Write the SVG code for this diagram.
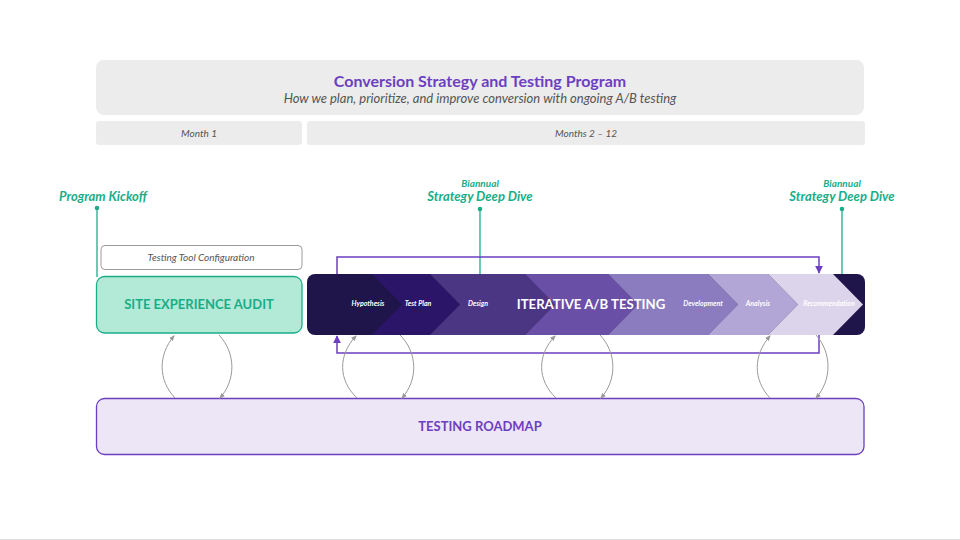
<svg xmlns="http://www.w3.org/2000/svg" width="960" height="540" viewBox="0 0 960 540">
<style>
text{font-family:Lato,"Noto Sans","Liberation Sans",sans-serif}
.hdr{fill:#ececec}
.mon{font-size:10px;font-style:italic;fill:#555;text-anchor:middle}
.green{fill:#19ad88;font-weight:bold;font-style:italic;text-anchor:middle}
.gline{stroke:#19ad88;stroke-width:1.3;fill:none}
.chev{font-size:7px;font-weight:bold;font-style:italic;fill:#fff;text-anchor:middle}
.loop{stroke:#6c3fc1;stroke-width:1.5;fill:none}
.arc{stroke:#9a9a9a;stroke-width:1;fill:none;marker-end:url(#ga)}
</style>
<defs>
<marker id="ga" viewBox="0 0 10 10" refX="8" refY="5" markerWidth="6" markerHeight="6" orient="auto" markerUnits="userSpaceOnUse"><path d="M0,1 L10,5 L0,9 z" fill="#9a9a9a"/></marker>
<marker id="pa" viewBox="0 0 10 10" refX="9" refY="5" markerWidth="8" markerHeight="8" orient="auto" markerUnits="userSpaceOnUse"><path d="M0,0 L10,5 L0,10 z" fill="#6c3fc1"/></marker>
<clipPath id="barclip"><rect x="307" y="274" width="558" height="61" rx="8"/></clipPath>
</defs>
<rect width="960" height="540" fill="#fff"/>
<line x1="0" y1="539.5" x2="960" y2="539.5" stroke="#dedede" stroke-width="1"/>

<g id="header">
<rect class="hdr" x="96" y="60" width="768" height="55" rx="8"/>
<text x="480" y="87" text-anchor="middle" font-size="16" font-weight="bold" fill="#6c3fc1">Conversion Strategy and Testing Program</text>
<text x="480" y="103" text-anchor="middle" font-size="13" font-style="italic" fill="#555">How we plan, prioritize, and improve conversion with ongoing A/B testing</text>
</g>
<g id="month1">
<rect class="hdr" x="96" y="121" width="206" height="24" rx="3"/>
<text class="mon" x="199" y="137">Month 1</text>
</g>
<g id="months2-12">
<rect class="hdr" x="307" y="121" width="558" height="24" rx="3"/>
<text class="mon" x="586" y="137">Months 2 – 12</text>
</g>

<g id="kickoff">
<text class="green" x="103" y="201" font-size="13">Program Kickoff</text>
</g>
<g id="deepdive1">
<text class="green" x="480" y="186.5" font-size="10">Biannual</text>
<text class="green" x="480" y="201" font-size="13">Strategy Deep Dive</text>
</g>
<g id="deepdive2">
<text class="green" x="842" y="186.5" font-size="10">Biannual</text>
<text class="green" x="842" y="201" font-size="13">Strategy Deep Dive</text>
</g>

<g id="tool-config">
<rect x="101" y="245.5" width="201" height="24" rx="4" fill="#fff" stroke="#9a9a9a" stroke-width="1"/>
<text class="mon" x="201" y="261">Testing Tool Configuration</text>
</g>

<g id="site-audit">
<rect x="96.5" y="276.5" width="205.5" height="56.5" rx="8" fill="#b3e9d7" stroke="#19ad88" stroke-width="1.3"/>
<text x="199" y="309" text-anchor="middle" font-size="13" font-weight="bold" fill="#19ad88">SITE EXPERIENCE AUDIT</text>
</g>

<g id="iterative-testing">
<g clip-path="url(#barclip)">
<rect x="307" y="274" width="558" height="61" fill="#20154a"/>
<polygon points="372,274 430,274 460,304.5 430,335 372,335 402,304.5" fill="#2a1569"/>
<polygon points="430,274 525,274 555,304.5 525,335 430,335 460,304.5" fill="#4b3683"/>
<polygon points="525,274 608,274 638,304.5 608,335 525,335 555,304.5" fill="#6a4fa7"/>
<polygon points="608,274 708,274 738,304.5 708,335 608,335 638,304.5" fill="#8b7bbf"/>
<polygon points="708,274 768,274 798,304.5 768,335 708,335 738,304.5" fill="#b1a6d5"/>
<polygon points="768,274 833,274 863,304.5 833,335 768,335 798,304.5" fill="#dcd4ea"/>
</g>
<text class="chev" x="368" y="305.5">Hypothesis</text>
<text class="chev" x="418" y="305.5">Test Plan</text>
<text class="chev" x="478" y="305.5">Design</text>
<text x="591" y="309" text-anchor="middle" font-size="13.2" font-weight="bold" fill="#fff">ITERATIVE A/B TESTING</text>
<text class="chev" x="703" y="305.5">Development</text>
<text class="chev" x="758" y="305.5">Analysis</text>
<text class="chev" x="829" y="305.5">Recommendation</text>
</g>

<g id="roadmap">
<rect x="96.5" y="398.5" width="767.5" height="56" rx="8" fill="#ede6f6" stroke="#6c3fc1" stroke-width="1.3"/>
<text x="480" y="431" text-anchor="middle" font-size="13" font-weight="bold" fill="#6c3fc1">TESTING ROADMAP</text>
</g>

<g id="connectors">
<g id="milestone-lines">
<circle cx="97" cy="208" r="2.3" fill="#19ad88"/>
<line class="gline" x1="97" y1="208" x2="97" y2="277"/>
<circle cx="480" cy="209" r="2.3" fill="#19ad88"/>
<line class="gline" x1="480" y1="209" x2="480" y2="274"/>
<circle cx="842" cy="209" r="2.3" fill="#19ad88"/>
<line class="gline" x1="842" y1="209" x2="842" y2="274"/>
</g>
<g id="loop">
<polyline class="loop" points="337,274 337,257 819,257 819,273" marker-end="url(#pa)"/>
<polyline class="loop" points="819,335 819,353 337,353 337,336" marker-end="url(#pa)"/>
</g>
<g id="cycles">
<path class="arc" d="M175,398 C158,380 158,355 174,336"/>
<path class="arc" d="M219,335 C236,353 236,380 220,398"/>
<path class="arc" d="M357,398 C338,380 338,355 356,336"/>
<path class="arc" d="M400,335 C418,353 418,380 402,398"/>
<path class="arc" d="M556,398 C537,380 537,355 555,336"/>
<path class="arc" d="M600,335 C617,353 617,380 601,398"/>
<path class="arc" d="M770,398 C753,380 753,355 770,336"/>
<path class="arc" d="M816,335 C832,353 832,380 816,398"/>
</g>
</g>
</svg>
